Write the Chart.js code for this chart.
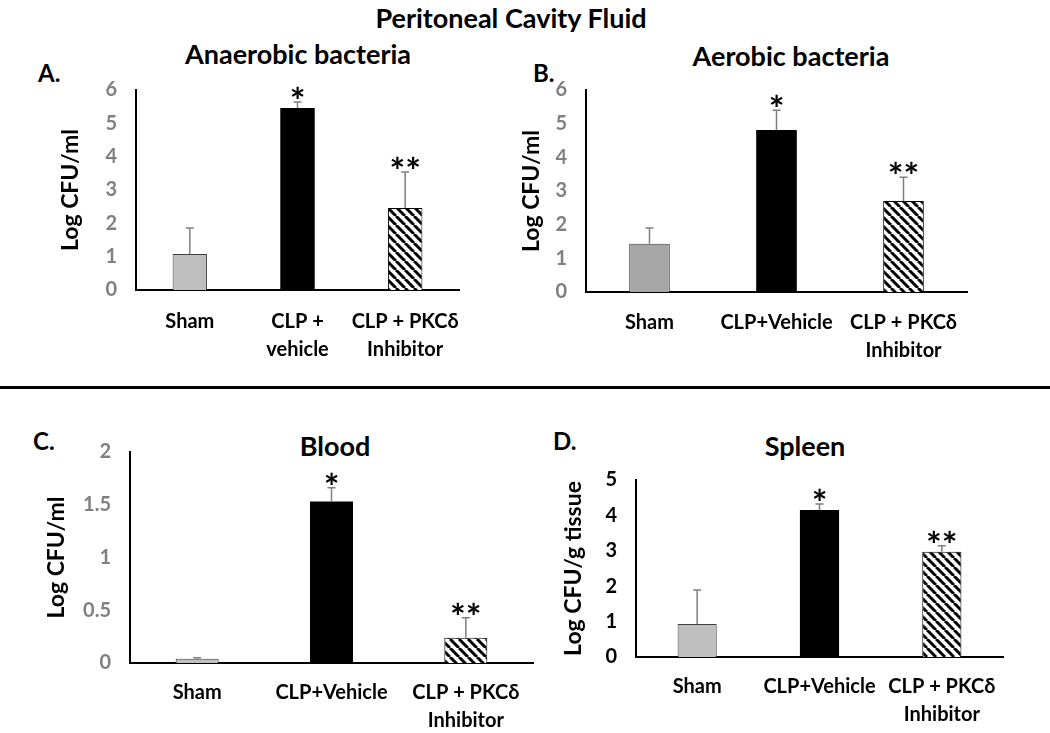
<!DOCTYPE html>
<html>
<head>
<meta charset="utf-8">
<script src="https://cdn.jsdelivr.net/npm/chart.js@4.4.1/dist/chart.umd.min.js"></script>
<style>
  body { margin: 0; background: #fff; }
  #wrap { position: relative; width: 1050px; height: 733px; overflow: hidden; font-family: Lato, sans-serif; font-weight: bold; color: #000; }
  #wrap canvas { position: absolute; left: 0; top: 0; }
  .txt { position: absolute; white-space: nowrap; transform: translate(-50%, -50%); }
  .letter { position: absolute; font-size: 24px; transform: translateY(-50%); }
  #sep { position: absolute; left: 0; top: 386px; width: 1050px; height: 3px; background: #000; }
</style>
</head>
<body>
<div id="wrap">
  <div class="txt" style="left:511px; top:17px; font-size:27px;">Peritoneal Cavity Fluid</div>
  <div class="txt" style="left:298px; top:53px; font-size:27px;">Anaerobic bacteria</div>
  <div class="txt" style="left:791px; top:55px; font-size:27px;">Aerobic bacteria</div>
  <div class="txt" style="left:335px; top:445px; font-size:27px;">Blood</div>
  <div class="txt" style="left:805px; top:445px; font-size:27px;">Spleen</div>
  <div class="letter" style="left:38px; top:72px;">A.</div>
  <div class="letter" style="left:533px; top:72px;">B.</div>
  <div class="letter" style="left:33px; top:440px;">C.</div>
  <div class="letter" style="left:553px; top:440px;">D.</div>
  <div id="sep"></div>
  <canvas id="chartA" width="1050" height="733"></canvas>
  <canvas id="chartB" width="1050" height="733"></canvas>
  <canvas id="chartC" width="1050" height="733"></canvas>
  <canvas id="chartD" width="1050" height="733"></canvas>
</div>
<script>
// categories
const labelsA = ["Sham", ["CLP +", "vehicle"], ["CLP + PKCδ", "Inhibitor"]];
const labelsBCD = ["Sham", "CLP+Vehicle", ["CLP + PKCδ", "Inhibitor"]];

// mean values and upper error (SD)
const anaerobicMean = [1.08, 5.46, 2.46];
const anaerobicErr = [0.78, 0.18, 1.08];
const aerobicMean = [1.43, 4.81, 2.70];
const aerobicErr = [0.47, 0.59, 0.71];
const bloodMean = [0.04, 1.53, 0.24];
const bloodErr = [0.01, 0.13, 0.19];
const spleenMean = [0.93, 4.15, 2.97];
const spleenErr = [0.96, 0.17, 0.17];

// significance marks
const sigMarks = ["", "*", "**"];

const FONT = "Lato, sans-serif";

function makeHatch() {
    const size = 9;
    const c = document.createElement("canvas");
    c.width = size; c.height = size;
    const g = c.getContext("2d");
    g.fillStyle = "#fff";
    g.fillRect(0, 0, size, size);
    g.strokeStyle = "#000";
    g.lineWidth = 3;
    for (let k = -size; k <= size; k += size) {
        g.beginPath();
        g.moveTo(k, 0);
        g.lineTo(k + size, size);
        g.stroke();
    }
    return g.createPattern(c, "repeat");
}

// draws the upper error bars and the asterisks
const errorBars = {
    id: "errorBars",
    afterDatasetsDraw(chart) {
        const ctx = chart.ctx;
        const yScale = chart.scales.y;
        const meta = chart.getDatasetMeta(0);
        const ds = chart.data.datasets[0];
        meta.data.forEach((bar, i) => {
            const top = yScale.getPixelForValue(ds.data[i] + ds.errors[i]);
            ctx.save();
            ctx.strokeStyle = "#7f7f7f";
            ctx.lineWidth = 1.5;
            ctx.beginPath();
            ctx.moveTo(bar.x, bar.y);
            ctx.lineTo(bar.x, top);
            ctx.moveTo(bar.x - 4, top);
            ctx.lineTo(bar.x + 4, top);
            ctx.stroke();
            if (ds.marks[i]) {
                ctx.fillStyle = "#000";
                ctx.font = "bold 37px " + FONT;
                ctx.textAlign = "center";
                ctx.textBaseline = "alphabetic";
                ctx.fillText(ds.marks[i], bar.x, top + 12);
            }
            ctx.restore();
        });
    }
};

function makeChart(id, cfg) {
    const hatch = makeHatch();
    return new Chart(document.getElementById(id), {
        type: "bar",
        data: {
            labels: cfg.labels,
            datasets: [{
                data: cfg.mean,
                errors: cfg.err,
                marks: sigMarks,
                backgroundColor: [cfg.shamColor, "#000000", hatch],
                borderColor: ["#404040", "#000000", "#000000"],
                borderWidth: [1, 0, 1],
                categoryPercentage: 1,
                barPercentage: 0.32
            }]
        },
        options: {
            responsive: false,
            animation: false,
            layout: {
                padding: { left: cfg.left, right: 1050 - cfg.right, top: cfg.top, bottom: 733 - cfg.bottom - cfg.xh }
            },
            plugins: { legend: { display: false }, tooltip: { enabled: false } },
            scales: {
                x: {
                    grid: { display: false, drawTicks: false },
                    border: { color: "#000", width: 2 },
                    ticks: {
                        color: "#000",
                        padding: cfg.xpad,
                        maxRotation: 0,
                        autoSkip: false,
                        font: { family: FONT, size: 20, weight: "bold", lineHeight: 1.4 }
                    },
                    afterFit(scale) { scale.height = cfg.xh; }
                },
                y: {
                    min: 0,
                    max: cfg.max,
                    grid: { display: false, drawTicks: false },
                    border: { color: "#000", width: 2 },
                    ticks: {
                        stepSize: cfg.step,
                        color: cfg.tickColor,
                        padding: 19,
                        font: { family: FONT, size: 20, weight: "bold" },
                        callback: (value) => String(Number(value))
                    },
                    title: {
                        display: true,
                        text: cfg.ytitle,
                        color: "#000",
                        padding: 0,
                        font: { family: FONT, size: 23, weight: "bold", lineHeight: 1.2 }
                    },
                    afterFit(scale) { scale.width = cfg.axisX - cfg.left; }
                }
            }
        },
        plugins: [errorBars]
    });
}

makeChart("chartA", {
    labels: labelsA, mean: anaerobicMean, err: anaerobicErr, shamColor: "#bfbfbf",
    left: 57, axisX: 136, right: 459, top: 90, bottom: 290, xh: 80, xpad: 18,
    max: 6, step: 1, tickColor: "#808080", ytitle: "Log CFU/ml"
});
makeChart("chartB", {
    labels: labelsBCD, mean: aerobicMean, err: aerobicErr, shamColor: "#a6a6a6",
    left: 518, axisX: 586, right: 967, top: 90, bottom: 292, xh: 80, xpad: 17,
    max: 6, step: 1, tickColor: "#808080", ytitle: "Log CFU/ml"
});
makeChart("chartC", {
    labels: labelsBCD, mean: bloodMean, err: bloodErr, shamColor: "#bfbfbf",
    left: 43, axisX: 130, right: 533, top: 452, bottom: 663, xh: 65, xpad: 16,
    max: 2, step: 0.5, tickColor: "#808080", ytitle: "Log CFU/ml"
});
makeChart("chartD", {
    labels: labelsBCD, mean: spleenMean, err: spleenErr, shamColor: "#bfbfbf",
    left: 560, axisX: 636, right: 1003, top: 480, bottom: 657, xh: 65, xpad: 16,
    max: 5, step: 1, tickColor: "#000", ytitle: "Log CFU/g tissue"
});
</script>
</body>
</html>
